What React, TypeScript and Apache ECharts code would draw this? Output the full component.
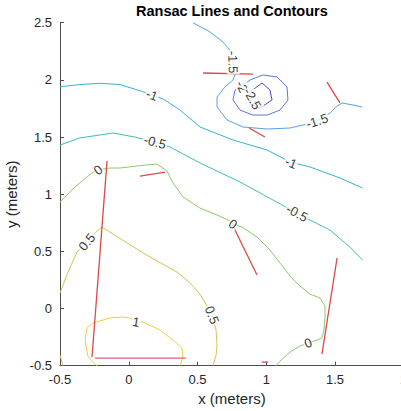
import React, { useEffect, useRef } from "react";
import * as echarts from "echarts";

const xTicks = [-0.5, 0, 0.5, 1, 1.5, 2];
const yTicks = [-0.5, 0, 0.5, 1, 1.5, 2, 2.5];

const levelM25: number[][] = [[0.969,1.973],[1.027,1.911],[1.042,1.824],[0.955,1.754],[0.882,1.789],[0.882,1.894],[0.969,1.973]];
const levelM2: number[][] = [[0.976,2.043],[1.078,2.025],[1.151,1.938],[1.158,1.824],[1.1,1.736],[1.005,1.692],[0.904,1.692],[0.809,1.736],[0.758,1.824],[0.773,1.911],[0.824,1.946],[0.882,1.999],[0.976,2.043]];
const levelM15: number[][] = [[0.467,2.5],[0.591,2.419],[0.685,2.331],[0.736,2.261],[0.758,2.156],[0.773,2.043],[0.758,1.999],[0.7,1.938],[0.642,1.85],[0.642,1.763],[0.715,1.649],[0.831,1.588],[1.005,1.57],[1.173,1.579],[1.267,1.605],[1.369,1.64],[1.464,1.71],[1.515,1.771],[1.551,1.798],[1.631,1.78],[1.696,1.763]];
const levelM1: number[][] = [[-0.5,1.94],[-0.355,1.959],[-0.209,1.97],[-0.064,1.959],[0.104,1.896],[0.249,1.833],[0.373,1.736],[0.518,1.588],[0.758,1.474],[1.005,1.387],[1.173,1.282],[1.318,1.238],[1.536,1.142],[1.7,1.054]];
const levelM05: number[][] = [[-0.5,1.43],[-0.355,1.492],[-0.115,1.535],[0.045,1.5],[0.191,1.456],[0.3,1.413],[0.518,1.273],[0.809,1.107],[1.049,0.949],[1.224,0.835],[1.318,0.774],[1.464,0.686],[1.609,0.537],[1.7,0.424]];
const level0: number[][] = [[-0.5,0.932],[-0.391,1.063],[-0.26,1.194],[-0.224,1.212],[-0.136,1.229],[-0.064,1.229],[0.06,1.247],[0.205,1.264],[0.278,1.203],[0.322,1.098],[0.395,0.976],[0.518,0.879],[0.642,0.818],[0.722,0.774],[0.758,0.739],[0.824,0.713],[0.933,0.625],[1.027,0.512],[1.1,0.398],[1.173,0.284],[1.245,0.197],[1.318,0.127],[1.391,0.092],[1.427,0.022],[1.427,-0.083],[1.42,-0.188],[1.405,-0.258],[1.369,-0.276],[1.304,-0.302],[1.245,-0.328],[1.173,-0.381],[1.1,-0.46],[1.071,-0.5]];
const level05: number[][] = [[-0.5,0.136],[-0.442,0.319],[-0.376,0.494],[-0.304,0.582],[-0.224,0.686],[-0.195,0.713],[0.104,0.486],[0.351,0.319],[0.445,0.223],[0.518,0.127],[0.569,0.022],[0.605,-0.057],[0.635,-0.188],[0.642,-0.319],[0.635,-0.407],[0.613,-0.5]];
const level05corner: number[][] = [[-0.5,-0.407],[-0.478,-0.5]];
const level1: number[][] = [[-0.231,-0.5],[-0.296,-0.424],[-0.318,-0.276],[-0.304,-0.171],[-0.26,-0.127],[-0.136,-0.083],[-0.042,-0.074],[0.009,-0.083],[0.053,-0.118],[0.104,-0.118],[0.227,-0.188],[0.322,-0.276],[0.387,-0.346],[0.395,-0.424],[0.373,-0.5]];

// contour labels: [x, y, rotation], text
const labelPos: number[][] = [
  [0.169,1.868,-20],[1.18,1.275,-22],
  [0.191,1.456,-14],[1.224,0.835,-28],
  [-0.224,1.212,38],[0.758,0.739,-32],[1.304,-0.302,20],
  [-0.304,0.582,50],[0.605,-0.057,-68],
  [0.053,-0.118,-10],
  [0.758,2.156,-88],[1.369,1.64,18],
  [0.824,1.94,-65],[0.9,1.835,-60],
];
const labelText: string[] = ["-1","-1","-0.5","-0.5","0","0","0","0.5","0.5","1","-1.5","-1.5","-2","-2.5"];

const ransacLines: number[][][] = [
  [[-0.158,1.29],[-0.267,-0.424]],
  [[0.082,1.159],[0.264,1.194]],
  [[0.751,0.739],[0.933,0.293]],
  [[1.515,0.442],[1.405,-0.398]],
  [[0.54,2.06],[0.904,2.051]],
  [[1.442,1.981],[1.536,1.798]],
  [[0.875,1.579],[0.991,1.5]],
  [[0.969,-0.468],[1.013,-0.468]],
];
const ransacBottom: number[][] = [[-0.245,-0.433],[0.416,-0.433]];

const FONT = "'Liberation Sans', Arial, Helvetica, sans-serif";

export default function App() {
  const ref = useRef<HTMLDivElement>(null);
  useEffect(() => {
    if (!ref.current) return;
    const chart = echarts.init(ref.current, undefined, { renderer: "svg" });
    const contour = (data: number[][], color: string) => ({
      type: "line",
      data,
      symbol: "none",
      silent: true,
      lineStyle: { color, width: 1 },
      z: 2,
    });
    const red = (data: number[][], color = "#dc4848") => ({
      type: "line",
      data,
      symbol: "none",
      silent: true,
      lineStyle: { color, width: 1.3 },
      z: 3,
    });
    const series: any[] = [
      contour(levelM25, "#4b4bd0"),
      contour(levelM2, "#5a78e4"),
      contour(levelM15, "#5b9fe0"),
      contour(levelM1, "#35b2d2"),
      contour(levelM05, "#3fbfb4"),
      contour(level0, "#8dc96c"),
      contour(level05, "#d4c24e"),
      contour(level05corner, "#d4c24e"),
      contour(level1, "#efcd42"),
      ...ransacLines.map((l) => red(l)),
      red(ransacBottom, "#e0607a"),
      {
        type: "scatter",
        symbolSize: 0,
        silent: true,
        z: 6,
        data: labelPos.map((p, i) => ({
          value: [p[0], p[1]],
          label: {
            show: true,
            position: "inside",
            formatter: labelText[i],
            rotate: p[2],
            color: "#000",
            fontSize: 13,
            fontFamily: FONT,
            backgroundColor: "#fff",
            padding: [0, 1],
          },
        })),
      },
    ];
    chart.setOption({
      animation: false,
      backgroundColor: "#fff",
      title: {
        text: "Ransac Lines and Contours",
        left: 136,
        top: 3.5,
        padding: 0,
        textStyle: { fontSize: 14.5, fontWeight: "bold", fontFamily: FONT, color: "#000" },
      },
      grid: { left: 60, top: 22.7, width: 343.75, height: 343, outerBoundsMode: "none", containLabel: false },
      xAxis: {
        type: "value",
        min: xTicks[0],
        max: xTicks[xTicks.length - 1],
        interval: 0.5,
        name: "x (meters)",
        nameLocation: "middle",
        nameGap: 25,
        nameTextStyle: { fontSize: 15, fontFamily: FONT, color: "#262626" },
        axisLine: { show: true, onZero: false, lineStyle: { color: "#4d4d4d", width: 1 } },
        axisTick: { show: true, inside: true, length: 4, lineStyle: { color: "#4d4d4d" } },
        axisLabel: { fontSize: 13, fontFamily: FONT, color: "#262626", margin: 7, formatter: (v: number) => String(v) },
        splitLine: { show: false },
      },
      yAxis: {
        type: "value",
        min: yTicks[0],
        max: yTicks[yTicks.length - 1],
        interval: 0.5,
        name: "y (meters)",
        nameLocation: "middle",
        nameGap: 30,
        nameRotate: 90,
        nameTextStyle: { fontSize: 15, fontFamily: FONT, color: "#262626" },
        axisLine: { show: true, onZero: false, lineStyle: { color: "#4d4d4d", width: 1 } },
        axisTick: { show: true, inside: true, length: 4, lineStyle: { color: "#4d4d4d" } },
        axisLabel: { fontSize: 13, fontFamily: FONT, color: "#262626", margin: 8, formatter: (v: number) => String(v) },
        splitLine: { show: false },
      },
      series,
    });
    return () => chart.dispose();
  }, []);
  return (
    <div
      ref={ref}
      style={{ position: "absolute", left: 0, top: 0, width: 401, height: 411 }}
    />
  );
}
